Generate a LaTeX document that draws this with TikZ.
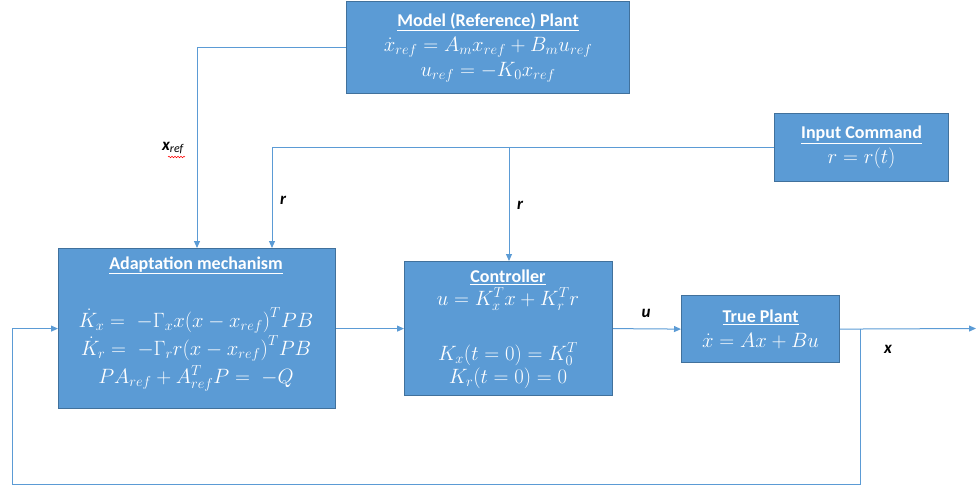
\documentclass[tikz,border=0pt]{standalone}
\usepackage{fontspec}
\setmainfont{Carlito}
\usetikzlibrary{arrows.meta,decorations.pathmorphing}
\definecolor{boxfill}{HTML}{5B9BD5}
\definecolor{boxedge}{HTML}{41719C}
\definecolor{linec}{HTML}{5B9BD5}
\newcommand{\ttl}[1]{{\fontsize{18}{18}\selectfont\underline{\textbf{#1}}}}
\begin{document}
\begin{tikzpicture}[x=1pt,y=-1pt,
  blk/.style={draw=boxedge,fill=boxfill,line width=1.2pt,text=white,align=center,inner sep=0pt,anchor=north west,font=\fontsize{21}{25}\selectfont},
  txt/.style={text=white,align=center,inner sep=0pt,font=\fontsize{21}{28}\selectfont},
  conn/.style={draw=linec,line width=1pt},
  arr/.style={conn,-{Triangle[length=7pt,width=6pt]}},
  lab/.style={font=\fontsize{17}{20}\selectfont\bfseries\itshape}]
\useasboundingbox (0,0) rectangle (976,486);
% boxes
\node[blk,minimum width=283pt,minimum height=92pt] (model) at (346,1)
  {\ttl{Model (Reference) Plant}\\
   $\dot{x}_{ref}=A_m x_{ref}+B_m u_{ref}$\\
   $u_{ref}=-K_0 x_{ref}$};
\node[blk,minimum width=174pt,minimum height=68pt] (input) at (774,113)
  {\ttl{Input Command}\\ $r=r(t)$};
\node[blk,minimum width=277pt,minimum height=160pt] (adapt) at (58,248) {};
\node[txt] (adapttxt) at (196,324)
  {\ttl{Adaptation mechanism}\\[30pt]
   $\dot{K}_x=\;-\Gamma_x x\bigl(x-x_{ref}\bigr)^T PB$\\
   $\dot{K}_r=\;-\Gamma_r r\bigl(x-x_{ref}\bigr)^T PB$\\
   $PA_{ref}+A_{ref}^T P=\;-Q$};
\node[blk,minimum width=208pt,minimum height=134pt] (ctrl) at (404,261) {};
\node[txt,font=\fontsize{21}{23}\selectfont] (ctrltxt) at (508,329)
  {\ttl{Controller}\\
   $u=K_x^T x+K_r^T r$\\[32pt]
   $K_x(t=0)=K_0^T$\\
   $K_r(t=0)=0$};
\node[blk,minimum width=158pt,minimum height=67pt] (plant) at (681,295)
  {\ttl{True Plant}\\ $\dot{x}=Ax+Bu$};
% coordinates
\coordinate (xrefin) at (197,248);
\coordinate (rin) at (272,248);
\coordinate (rjunc) at (509,147);
\coordinate (rctl) at (509,261);
\coordinate (xout) at (976,328.5);
\coordinate (fb) at (860,328.5);
\coordinate (fbcorner) at (12,484);
% connectors
\draw[arr] (model.west) -| (xrefin);
\draw[arr] (input.west) -| (rin);
\draw[arr] (rjunc) -- (rctl);
\draw[arr] (adapt.east) -- (ctrl.west);
\draw[arr] (ctrl.east) -- (plant.west);
\draw[arr] (plant.east) -- (xout);
\draw[arr] (fb) |- (fbcorner) |- (adapt.west);
% labels
\node[lab] (lxref) at (173,148) {x\textsubscript{\normalfont\itshape ref}};
\draw[red,line width=0.5pt,decorate,decoration={snake,amplitude=0.8pt,segment length=3pt}] (168,157) -- (185,157);
\node[lab] (lr1) at (283,200) {r};
\node[lab] (lr2) at (520,205) {r};
\node[lab] (lu) at (646,313) {u};
\node[lab] (lx) at (888,349) {x};
\end{tikzpicture}
\end{document}
